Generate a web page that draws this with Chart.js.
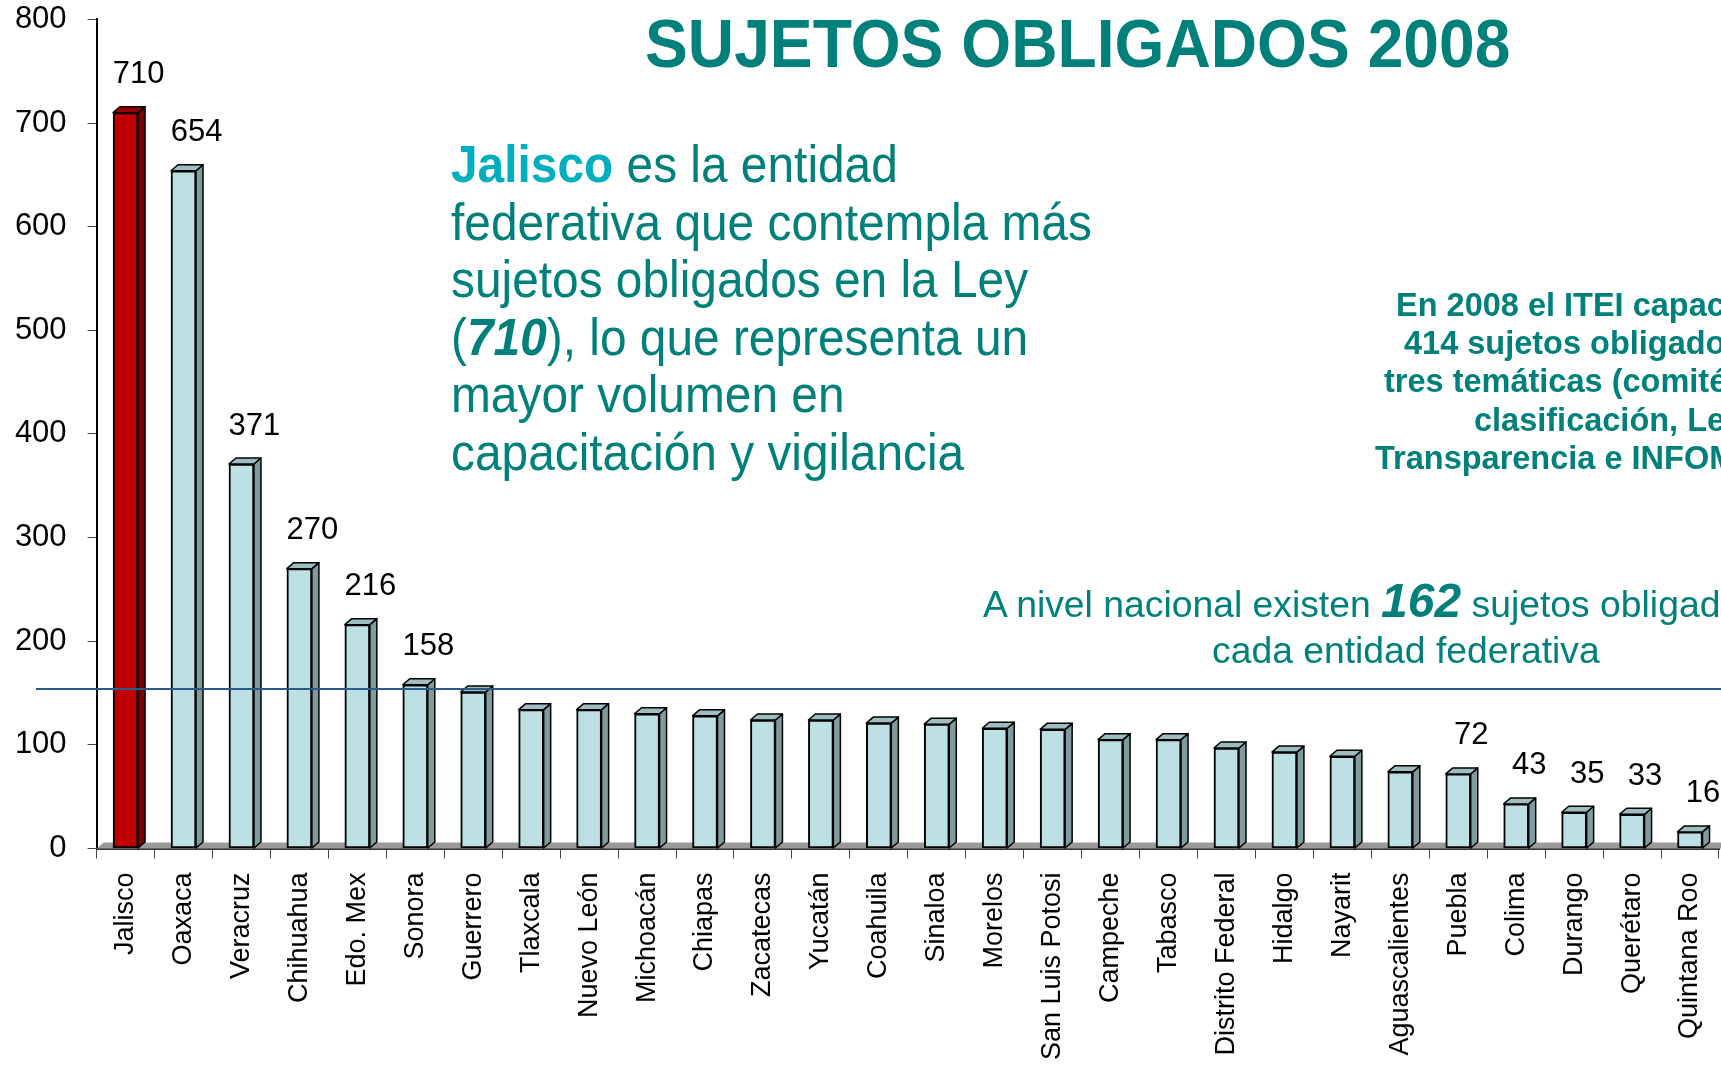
<!DOCTYPE html>
<html>
<head>
<meta charset="utf-8">
<script src="https://cdn.jsdelivr.net/npm/chart.js@4.4.1/dist/chart.umd.min.js"></script>
<style>
  html, body { margin: 0; padding: 0; background: #fff; overflow: hidden; }
  #wrap { position: relative; width: 1721px; height: 1071px; overflow: hidden; }
  #myChart { position: absolute; left: 0; top: 0; }
  .txt { position: absolute; white-space: nowrap; color: #00807A; font-family: "Liberation Sans", Arial, sans-serif; line-height: 1; transform-origin: 0 0; }
  .title { left: 645px; top: 9px; font-size: 69px; font-weight: bold; transform: scaleX(0.93); }
  .para { left: 451px; top: 136px; font-size: 52px; line-height: 57.6px; transform: scaleX(0.92); }
  .para .hl { color: #00AEC0; font-weight: bold; }
  .box { font-size: 32.5px; font-weight: bold; }
  .nat { font-size: 37.3px; }
  .nat .big { font-size: 48px; font-weight: bold; font-style: italic; line-height: 0; }
</style>
</head>
<body>
<div id="wrap">
  <canvas id="myChart" width="1721" height="1071"></canvas>

  <div class="txt title">SUJETOS OBLIGADOS 2008</div>

  <div class="txt para"><span class="hl">Jalisco</span> es la entidad<br>federativa que contempla más<br>sujetos obligados en la Ley<br>(<b><i>710</i></b>), lo que representa un<br>mayor volumen en<br>capacitación y vigilancia</div>

  <div class="txt box" style="left:1396px; top:289px;">En 2008 el ITEI capacitó a</div>
  <div class="txt box" style="left:1404px; top:327px;">414 sujetos obligados en</div>
  <div class="txt box" style="left:1384px; top:365px;">tres temáticas (comités de</div>
  <div class="txt box" style="left:1474px; top:404px;">clasificación, Ley de</div>
  <div class="txt box" style="left:1375px; top:442px;">Transparencia e INFOMEX)</div>

  <div class="txt nat" style="left:983px; top:586px;">A nivel nacional existen <span class="big">162</span> sujetos obligados en</div>
  <div class="txt nat" style="left:1212px; top:632px;">cada entidad federativa</div>
</div>

<script>
// ข้อมูลจากกราฟ
const categories = ['Jalisco', 'Oaxaca', 'Veracruz', 'Chihuahua', 'Edo. Mex', 'Sonora', 'Guerrero',
  'Tlaxcala', 'Nuevo León', 'Michoacán', 'Chiapas', 'Zacatecas', 'Yucatán', 'Coahuila', 'Sinaloa',
  'Morelos', 'San Luis Potosi', 'Campeche', 'Tabasco', 'Distrito Federal', 'Hidalgo', 'Nayarit',
  'Aguascalientes', 'Puebla', 'Colima', 'Durango', 'Querétaro', 'Quintana Roo'];
const sujetos = [710, 654, 371, 270, 216, 158, 151, 134, 134, 130, 128, 124, 124, 121, 120,
  116, 115, 105, 105, 97, 93, 89, 74, 72, 43, 35, 33, 16];
const highlighted = ['Jalisco'];
const labelledBars = ['Jalisco', 'Oaxaca', 'Veracruz', 'Chihuahua', 'Edo. Mex', 'Sonora',
  'Puebla', 'Colima', 'Durango', 'Querétaro', 'Quintana Roo'];
const yTickValues = [0, 100, 200, 300, 400, 500, 600, 700, 800];
const nationalLevel = 154;

const FRONT = '#BCE0E3', SIDE = '#7F9B9D', TOP = '#9DBDC0';
const FRONT_HI = '#C00000', SIDE_HI = '#7A0000', TOP_HI = '#980000';
const DX = 7, DY = 6;

function poly(ctx, pts, fill) {
    ctx.beginPath();
    ctx.moveTo(pts[0][0], pts[0][1]);
    pts.slice(1).forEach(p => ctx.lineTo(p[0], p[1]));
    ctx.closePath();
    ctx.fillStyle = fill;
    ctx.fill();
    ctx.stroke();
}

// ทำแท่งแบบ 3 มิติ + เส้นค่าเฉลี่ย + ตัวเลขบนแท่ง
const bar3d = {
    id: 'bar3d',
    beforeDatasetsDraw(chart) {
        const { ctx, chartArea } = chart;
        const y0 = chart.scales.y.getPixelForValue(0);
        ctx.save();
        ctx.fillStyle = '#9a9a9a';
        ctx.beginPath();
        ctx.moveTo(chartArea.left, y0);
        ctx.lineTo(chartArea.left + DX, y0 - DY);
        ctx.lineTo(chartArea.right + 10, y0 - DY);
        ctx.lineTo(chartArea.right + 10, y0);
        ctx.closePath();
        ctx.fill();
        ctx.restore();
    },
    afterDatasetsDraw(chart) {
        const { ctx } = chart;
        const meta = chart.getDatasetMeta(0);
        ctx.save();
        ctx.strokeStyle = '#000';
        ctx.lineWidth = 1.5;
        ctx.lineJoin = 'round';
        meta.data.forEach((bar, i) => {
            const { x, y, base, width } = bar.getProps(['x', 'y', 'base', 'width'], true);
            const l = x - width / 2, r = x + width / 2;
            const hi = highlighted.includes(categories[i]);
            poly(ctx, [[r, y], [r + DX, y - DY], [r + DX, base - DY], [r, base]], hi ? SIDE_HI : SIDE);
            poly(ctx, [[l, y], [l + DX, y - DY], [r + DX, y - DY], [r, y]], hi ? TOP_HI : TOP);
        });

        // เส้นระดับประเทศ
        const yLine = chart.scales.y.getPixelForValue(nationalLevel);
        ctx.strokeStyle = '#2A5B8A';
        ctx.lineWidth = 2;
        ctx.beginPath();
        ctx.moveTo(36, yLine);
        ctx.lineTo(chart.width, yLine);
        ctx.stroke();

        ctx.fillStyle = '#000';
        ctx.font = '31px "Liberation Sans", Arial, sans-serif';
        ctx.textAlign = 'center';
        ctx.textBaseline = 'middle';
        meta.data.forEach((bar, i) => {
            if (!labelledBars.includes(categories[i])) return;
            ctx.fillText(String(sujetos[i]), bar.x + 13, bar.y - 38);
        });
        ctx.restore();
    }
};

const ctx = document.getElementById('myChart').getContext('2d');
new Chart(ctx, {
    type: 'bar',
    data: {
        labels: categories,
        datasets: [{
            data: sujetos,
            backgroundColor: categories.map(c => highlighted.includes(c) ? FRONT_HI : FRONT),
            borderColor: '#000',
            borderWidth: 2,
            borderSkipped: false,
            barThickness: 25
        }]
    },
    options: {
        responsive: false,
        animation: false,
        layout: { padding: { top: 19.4, right: 2, left: 0, bottom: 0 } },
        plugins: {
            legend: { display: false },
            tooltip: { enabled: false }
        },
        scales: {
            y: {
                min: 0,
                max: 800,
                afterBuildTicks: s => { s.ticks = yTickValues.map(v => ({ value: v })); },
                afterFit: s => { s.width = 96.6; s.paddingTop = 0; s.paddingBottom = 0; },
                border: { display: true, color: '#000', width: 2 },
                grid: { drawOnChartArea: false, drawTicks: true, tickLength: 9, color: '#444' },
                ticks: {
                    color: '#000',
                    padding: 21,
                    font: { family: '"Liberation Sans", Arial, sans-serif', size: 31 }
                }
            },
            x: {
                afterFit: s => { s.height = 222.5; s.paddingLeft = 0; s.paddingRight = 0; },
                border: { display: true, color: '#333', width: 2 },
                grid: { drawOnChartArea: false, drawTicks: true, tickLength: 10, color: '#444', offset: true },
                ticks: {
                    autoSkip: false,
                    maxRotation: 90,
                    minRotation: 90,
                    padding: 14,
                    color: '#000',
                    font: { family: '"Liberation Sans", Arial, sans-serif', size: 27 }
                }
            }
        }
    },
    plugins: [bar3d]
});
</script>
</body>
</html>
